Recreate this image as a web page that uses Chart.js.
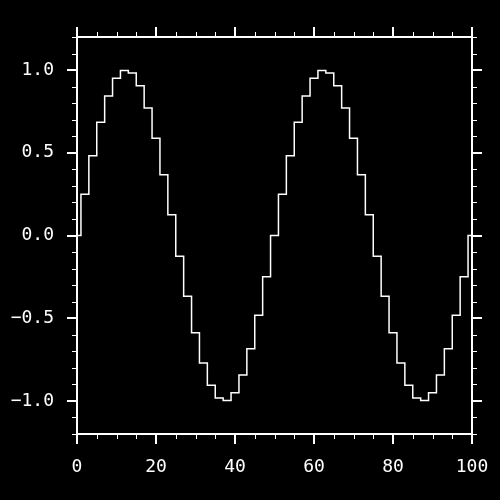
<!DOCTYPE html>
<html lang="en">
<head>
    <meta charset="UTF-8">
    <title>Stepped sine</title>
    <script src="https://cdn.jsdelivr.net/npm/chart.js@4.4.0/dist/chart.umd.min.js"></script>
    <style>
        body { margin: 0; background: #000; }
        canvas { background: #000; }
    </style>
</head>
<body>
<canvas id="myChart" width="500" height="500"></canvas>
<script>

    // values
    let xValues = [0, 2, 4, 6, 8, 10, 12, 14, 16, 18, 20, 22, 24, 26, 28, 30, 32, 34, 36, 38, 40, 42, 44, 46, 48,
                   50, 52, 54, 56, 58, 60, 62, 64, 66, 68, 70, 72, 74, 76, 78, 80, 82, 84, 86, 88, 90, 92, 94, 96, 98, 100];
    let yValues = [0, 0.249, 0.482, 0.685, 0.844, 0.951, 0.998, 0.982, 0.905, 0.771, 0.588, 0.368, 0.125,
                   -0.125, -0.368, -0.588, -0.771, -0.905, -0.982, -0.998, -0.951, -0.844, -0.685, -0.482, -0.249,
                   0, 0.249, 0.482, 0.685, 0.844, 0.951, 0.998, 0.982, 0.905, 0.771, 0.588, 0.368, 0.125,
                   -0.125, -0.368, -0.588, -0.771, -0.905, -0.982, -0.998, -0.951, -0.844, -0.685, -0.482, -0.249, 0];
    let xTickLabels = [0, 20, 40, 60, 80, 100];
    let yTickLabels = [-1.0, -0.5, 0.0, 0.5, 1.0];

    let points = xValues.map((x, i) => ({x: x, y: yValues[i]}));

    let isMajorX = v => xTickLabels.some(t => Math.abs(t - v) < 1e-6);
    let isMajorY = v => yTickLabels.some(t => Math.abs(t - v) < 1e-6);

    // frame + ticks on the four sides
    let cadre = {
        id: 'cadre',
        afterDraw(chart) {
            let ctx = chart.ctx;
            let a = chart.chartArea;
            let xs = chart.scales.x;
            let ys = chart.scales.y;
            ctx.save();
            ctx.strokeStyle = '#fff';
            ctx.lineWidth = 2;
            ctx.strokeRect(a.left, a.top, a.right - a.left, a.bottom - a.top);

            xs.ticks.forEach(t => {
                let major = isMajorX(t.value);
                let len = major ? 10 : 5;
                ctx.lineWidth = major ? 2 : 1;
                let px = Math.round(xs.getPixelForValue(t.value)) + (major ? 0 : 0.5);
                ctx.beginPath();
                ctx.moveTo(px, a.bottom);
                ctx.lineTo(px, a.bottom + len);
                ctx.moveTo(px, a.top);
                ctx.lineTo(px, a.top - len);
                ctx.stroke();
            });
            ys.ticks.forEach(t => {
                let major = isMajorY(t.value);
                let len = major ? 10 : 5;
                ctx.lineWidth = major ? 2 : 1;
                let py = Math.round(ys.getPixelForValue(t.value)) + (major ? 0 : 0.5);
                ctx.beginPath();
                ctx.moveTo(a.left, py);
                ctx.lineTo(a.left - len, py);
                ctx.moveTo(a.right, py);
                ctx.lineTo(a.right + len, py);
                ctx.stroke();
            });
            ctx.restore();
        }
    };

    let police = {family: 'DejaVu Sans Mono', size: 18};

    let ctx = document.getElementById('myChart').getContext('2d');
    let chart = new Chart(ctx, {
        type: 'line',
        data: {
            datasets: [{
                data: points,
                borderColor: '#fff',
                borderWidth: 1.5,
                pointRadius: 0,
                stepped: 'middle',
                fill: false
            }]
        },
        options: {
            responsive: false,
            animation: false,
            layout: {padding: {top: 37, right: 28, left: 0, bottom: 0}},
            plugins: {legend: {display: false}, tooltip: {enabled: false}},
            scales: {
                x: {
                    type: 'linear',
                    min: 0,
                    max: 100,
                    grid: {display: false},
                    border: {display: false},
                    afterFit: s => { s.height = 66; s.paddingLeft = 0; s.paddingRight = 0; },
                    ticks: {
                        stepSize: 5,
                        autoSkip: false,
                        maxRotation: 0,
                        color: '#fff',
                        font: police,
                        padding: 15,
                        callback: v => isMajorX(v) ? String(Math.round(v)) : ''
                    }
                },
                y: {
                    min: -1.2,
                    max: 1.2,
                    grid: {display: false},
                    border: {display: false},
                    afterFit: s => { s.width = 77; s.paddingTop = 0; s.paddingBottom = 0; },
                    ticks: {
                        stepSize: 0.1,
                        autoSkip: false,
                        color: '#fff',
                        font: police,
                        padding: 15,
                        callback: v => isMajorY(v) ? v.toFixed(1).replace('-', '\u2212') : ''
                    }
                }
            }
        },
        plugins: [cadre]
    });

</script>
</body>
</html>
